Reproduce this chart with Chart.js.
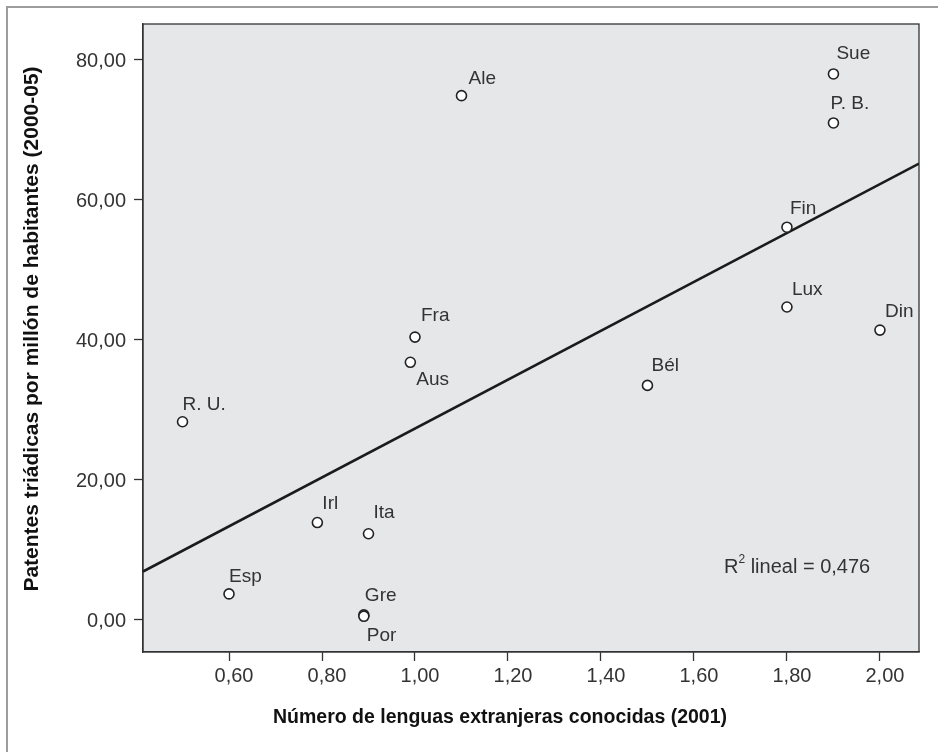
<!DOCTYPE html>
<html>
<head>
<meta charset="utf-8">
<script src="https://cdn.jsdelivr.net/npm/chart.js@4.4.1/dist/chart.umd.min.js"></script>
<style>
  html, body { margin: 0; padding: 0; background: #ffffff; }
  #wrap { position: relative; width: 938px; height: 752px; overflow: hidden; background: #fff; }
  #frame { position: absolute; left: 6px; top: 6px; width: 1200px; height: 1200px;
           border-top: 2px solid #9c9c9c; border-left: 2px solid #9c9c9c; }
  canvas { position: absolute; left: 0; top: 0; }
</style>
</head>
<body>
<div id="wrap">
  <div id="frame"></div>
  <canvas id="c" width="938" height="752"></canvas>
</div>
<script>
// ---- data ----
const countries = ['Sue', 'P. B.', 'Ale', 'Fin', 'Lux', 'Din', 'Fra', 'Aus', 'Bél', 'R. U.', 'Irl', 'Ita', 'Esp', 'Gre', 'Por'];
const languages = [1.90, 1.90, 1.10, 1.80, 1.80, 2.00, 1.00, 0.99, 1.50, 0.50, 0.79, 0.90, 0.60, 0.89, 0.89];
const patents   = [78.0, 71.0, 74.9, 56.1, 44.7, 41.4, 40.4, 36.8, 33.5, 28.3, 13.9, 12.3, 3.7, 0.7, 0.5];

// fitted line (read at the two edges of the plot)
const fitX = [0.415, 2.084];
const fitY = [6.9, 65.2];
const rSquared = '0,476';

const xTicks = [0.6, 0.8, 1.0, 1.2, 1.4, 1.6, 1.8, 2.0];
const yTicks = [0, 20, 40, 60, 80];
const xRange = [0.415, 2.084];
const yRange = [-4.6, 85.14];

const xTitle = 'Número de lenguas extranjeras conocidas (2001)';
const yTitle = 'Patentes triádicas por millón de habitantes (2000-05)';

// label placement (style): offset of the label's left/middle from the point, px
const labelOffsets = [
  [3, -20], [-3, -19], [7, -17], [3, -18], [5, -17], [5, -18], [6, -21], [6, 17],
  [4, -20], [0, -17], [5, -19], [5, -21], [0, -17], [1, -19], [3, 19]
];

const FONT = '"Liberation Sans", Arial, Helvetica, sans-serif';
const fmt = v => Number(v).toFixed(2).replace('.', ',');

const points = countries.map((c, i) => ({ x: languages[i], y: patents[i] }));
const fitPoints = fitX.map((x, i) => ({ x: x, y: fitY[i] }));

const areaPlugin = {
  id: 'areaPlugin',
  beforeDraw(chart) {
    const { ctx, chartArea: a } = chart;
    ctx.save();
    ctx.fillStyle = '#e6e7e9';
    ctx.fillRect(a.left, a.top, a.right - a.left, a.bottom - a.top);
    ctx.restore();
  },
  beforeDatasetsDraw(chart) {
    const { ctx, chartArea: a } = chart;
    ctx.save();
    ctx.strokeStyle = '#333';
    ctx.lineWidth = 1.3;
    ctx.strokeRect(a.left, a.top, a.right - a.left, a.bottom - a.top);
    ctx.restore();
  },
  afterDatasetsDraw(chart) {
    const { ctx, chartArea: a } = chart;
    const meta = chart.getDatasetMeta(0);
    ctx.save();
    ctx.fillStyle = '#333';
    ctx.font = '19px ' + FONT;
    ctx.textAlign = 'left';
    ctx.textBaseline = 'middle';
    meta.data.forEach((el, i) => {
      const off = labelOffsets[i];
      ctx.fillText(countries[i], el.x + off[0], el.y + off[1]);
    });
    // R² annotation
    let x = a.right - 195, y = a.bottom - 85;
    ctx.font = '20px ' + FONT;
    ctx.fillText('R', x, y);
    x += ctx.measureText('R').width;
    ctx.font = '12px ' + FONT;
    ctx.fillText('2', x, y - 7);
    x += ctx.measureText('2').width;
    ctx.font = '20px ' + FONT;
    ctx.fillText(' lineal = ' + rSquared, x, y);

    // axis titles
    ctx.fillStyle = '#111';
    ctx.textAlign = 'center';
    ctx.font = 'bold 19.5px ' + FONT;
    ctx.fillText(xTitle, 500, 718);
    ctx.translate(32, 329);
    ctx.rotate(-Math.PI / 2);
    ctx.font = 'bold 21px ' + FONT;
    ctx.fillText(yTitle, 0, 0);
    ctx.restore();
  }
};

new Chart(document.getElementById('c'), {
  type: 'scatter',
  data: {
    datasets: [
      {
        label: 'países',
        data: points,
        pointRadius: 5,
        pointHoverRadius: 5,
        pointBackgroundColor: '#ffffff',
        pointBorderColor: '#222',
        pointBorderWidth: 1.6,
        order: 1
      },
      {
        type: 'line',
        label: 'ajuste',
        data: fitPoints,
        borderColor: '#1b1b1b',
        borderWidth: 2.6,
        pointRadius: 0,
        fill: false,
        order: 2
      }
    ]
  },
  plugins: [areaPlugin],
  options: {
    responsive: false,
    animation: false,
    events: [],
    layout: { padding: { top: 24, right: 19, left: 0, bottom: 0 } },
    plugins: { legend: { display: false }, tooltip: { enabled: false } },
    scales: {
      x: {
        type: 'linear',
        min: xRange[0],
        max: xRange[1],
        afterFit: s => { s.height = 100; },
        afterBuildTicks: s => { s.ticks = xTicks.map(v => ({ value: v })); },
        ticks: { font: { family: FONT, size: 20 }, color: '#333', padding: 3, labelOffset: 5, callback: v => fmt(v), maxRotation: 0, autoSkip: false },
        grid: { drawOnChartArea: false, drawTicks: true, tickLength: 9, tickColor: '#333', tickWidth: 1.3 },
        border: { display: true, color: '#333', width: 1.3 },
        title: { display: false }
      },
      y: {
        type: 'linear',
        min: yRange[0],
        max: yRange[1],
        afterFit: s => { s.width = 143; },
        afterBuildTicks: s => { s.ticks = yTicks.map(v => ({ value: v })); },
        ticks: { font: { family: FONT, size: 20 }, color: '#333', padding: 8, labelOffset: 2, callback: v => fmt(v), autoSkip: false },
        grid: { drawOnChartArea: false, drawTicks: true, tickLength: 9, tickColor: '#333', tickWidth: 1.3 },
        border: { display: true, color: '#333', width: 1.3 },
        title: { display: false }
      }
    }
  }
});
</script>
</body>
</html>
